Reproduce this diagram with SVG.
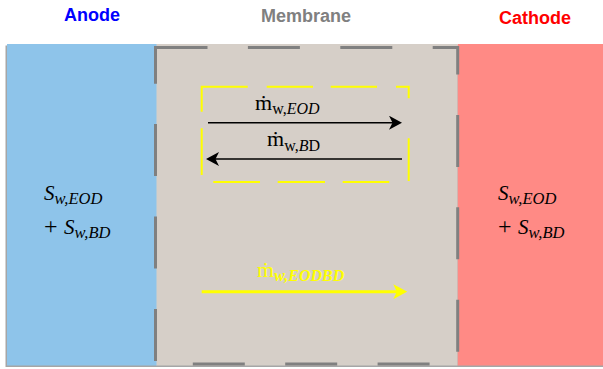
<svg xmlns="http://www.w3.org/2000/svg" width="603" height="369" viewBox="0 0 603 369">
  <style>
    .title { font-family: "Liberation Sans", Arial, sans-serif; font-weight: bold; font-size: 18px; text-anchor: middle; }
    .math { font-family: "Liberation Serif", "DejaVu Serif", serif; }
    .it { font-style: italic; }
    .flow { fill: none; stroke: #000; stroke-width: 1.6; }
  </style>
  <defs>
    <marker id="headBlack" markerUnits="userSpaceOnUse" viewBox="0 0 13 14" markerWidth="13" markerHeight="14" refX="9" refY="7" orient="auto">
      <path d="M0,0 L13,7 L0,14 L3.5,7 Z" fill="#000"/>
    </marker>
    <marker id="headYellow" markerUnits="userSpaceOnUse" viewBox="0 0 14 15" markerWidth="14" markerHeight="15" refX="9" refY="7.5" orient="auto">
      <path d="M0,0 L14,7.5 L0,15 L3.5,7.5 Z" fill="#FFFF00"/>
    </marker>
  </defs>

  <!-- region titles -->
  <text class="title" x="92" y="21" fill="#0000FF">Anode</text>
  <text class="title" x="306" y="22" fill="#808080">Membrane</text>
  <text class="title" x="535" y="24" fill="#FF0000">Cathode</text>

  <!-- drop shadow of the cell band -->
  <rect x="5.5" y="45.5" width="600" height="321.5" fill="#A6A6A6"/>

  <g id="anode">
    <rect x="7" y="44" width="150" height="321.5" fill="#8EC4EA"/>
    <text class="math" font-size="21" x="44" y="199.5"><tspan class="it">S</tspan><tspan class="it" font-size="16.5" dy="4.5">w,EOD</tspan></text>
    <text class="math" font-size="24" x="44" y="234">+</text>
    <text class="math" font-size="21" x="64" y="233.5"><tspan class="it">S</tspan><tspan class="it" font-size="16.5" dy="4.5">w,BD</tspan></text>
  </g>

  <g id="cathode">
    <rect x="457.5" y="44" width="146" height="321.5" fill="#FF8A85"/>
    <text class="math" font-size="21" x="498" y="199.5"><tspan class="it">S</tspan><tspan class="it" font-size="16.5" dy="4.5">w,EOD</tspan></text>
    <text class="math" font-size="24" x="498" y="234">+</text>
    <text class="math" font-size="21" x="518" y="233.5"><tspan class="it">S</tspan><tspan class="it" font-size="16.5" dy="4.5">w,BD</tspan></text>
  </g>

  <g id="membrane">
    <rect x="156.5" y="44" width="301" height="321.5" fill="#D6CFC8"/>
    <rect x="155.5" y="47.5" width="302.2" height="316.5" fill="none" stroke="#808080" stroke-width="3" stroke-dasharray="52 40.4"/>
  </g>

  <g id="flux-box">
    <path d="M201.7,111.7 V86.7 H247.7 M266.7,86.7 H313 M330.7,86.7 H377 M396,86.7 H408.7 V98.3 M408.7,138.3 V181 M389.3,182 H342.7 M325,182 H277.7 M260,182 H213.3 M201.7,175 V128.3" fill="none" stroke="#FFFF00" stroke-width="2"/>
    <text class="math" font-size="22" x="255" y="110">ṁ<tspan font-size="16" dy="4">w,<tspan class="it">EOD</tspan></tspan></text>
    <text class="math" font-size="22" x="267" y="146">ṁ<tspan font-size="16" dy="4.5">w,<tspan class="it">B</tspan>D</tspan></text>
  </g>

  <g id="net-flux-label">
    <text class="math" font-size="22" x="257" y="277" fill="#FFFF00">ṁ<tspan font-size="16" dy="4" font-weight="bold" font-style="italic">w,EODBD</tspan></text>
  </g>

  <g id="connectors">
    <line class="flow" x1="208" y1="122.7" x2="398" y2="122.7" marker-end="url(#headBlack)"/>
    <line class="flow" x1="402" y1="159" x2="210" y2="159" marker-end="url(#headBlack)"/>
    <line x1="201.7" y1="291.7" x2="402.3" y2="291.7" stroke="#FFFF00" stroke-width="3" marker-end="url(#headYellow)"/>
  </g>
</svg>
